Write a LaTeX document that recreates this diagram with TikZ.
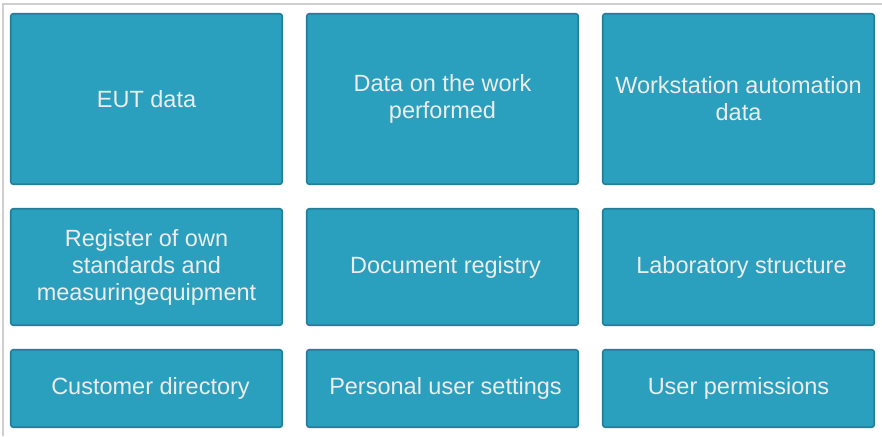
\documentclass[tikz,border=0pt]{standalone}
\usepackage{fontspec}
\setmainfont{Liberation Sans}
\definecolor{boxfill}{HTML}{2AA0BE}
\definecolor{boxline}{HTML}{237F98}
\definecolor{boxtext}{HTML}{ECECEC}
\definecolor{frameline}{HTML}{CFCFCF}
\begin{document}
\begin{tikzpicture}[x=1pt,y=1pt,
  cell/.style={rectangle, rounded corners=2.5pt, draw=boxline, line width=1.6pt,
    fill=boxfill, text=boxtext, align=center, minimum width=271.5pt,
    font=\fontsize{23.5}{27}\selectfont, inner sep=0pt},
  tallcell/.style={cell, minimum height=170.5pt},
  midcell/.style={cell, minimum height=116.5pt},
  lowcell/.style={cell, minimum height=77.5pt}]
\useasboundingbox (0,0) rectangle (882,436);
\fill[white] (0,0) rectangle (882,436);
\draw[frameline, line width=2pt] (3,0) -- (3,431.5) -- (882,431.5);
% row 1
\node[tallcell] (eut) at (146.5,337) {EUT data};
\node[tallcell] (work) at (442.5,337) {Data on the work\\performed};
\node[tallcell] (auto) at (738.5,337) {Workstation automation\\data};
% row 2
\node[midcell] (reg) at (146.5,169) {Register of own\\standards and\\measuringequipment};
\node[midcell] (doc) at (442.5,169) {\hspace*{6pt}Document registry};
\node[midcell] (lab) at (738.5,169) {\hspace*{6pt}Laboratory structure};
% row 3
\node[lowcell] (cust) at (146.5,47.5) {\hspace*{8pt}Customer directory};
\node[lowcell] (pers) at (442.5,47.5) {\hspace*{6pt}Personal user settings};
\node[lowcell] (perm) at (738.5,47.5) {User permissions};
\end{tikzpicture}
\end{document}
